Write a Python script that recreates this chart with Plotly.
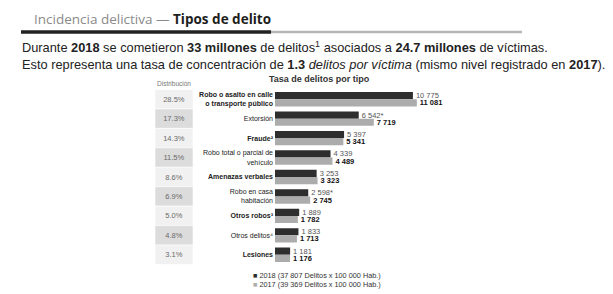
import plotly.graph_objects as go

# page body has an 8px margin: the figure is drawn at (8, 8) in the window
OFF = 8
W, H = 605, 286

categories = ["Robo o asalto en calle o transporte público", "Extorsión", "Fraude",
              "Robo total o parcial de vehículo", "Amenazas verbales",
              "Robo en casa habitación", "Otros robos", "Otros delitos", "Lesiones"]
tick_labels = ["Robo o asalto en calle<br>o transporte público", "Extorsión", "Fraude²",
               "Robo total o parcial de<br>vehículo", "Amenazas verbales",
               "Robo en casa<br>habitación", "Otros robos³", "Otros delitos⁴", "Lesiones"]
tick_bold = [True, False, True, False, True, False, True, False, True]
values_2018 = [10775, 6542, 5397, 4339, 3253, 2598, 1889, 1833, 1181]
notes_2018 = ["", "*", "", "", "", "*", "", "", ""]
values_2017 = [11081, 7719, 5341, 4489, 3323, 2745, 1782, 1713, 1176]
distribution = ["28.5%", "17.3%", "14.3%", "11.5%", "8.6%", "6.9%", "5.0%", "4.8%", "3.1%"]
legend_2018 = "2018 (37 807 Delitos x 100 000 Hab.)"
legend_2017 = "2017 (39 369 Delitos x 100 000 Hab.)"

def fmt(v):
    return f"{v:,}".replace(",", " ")

def px(x):
    return (x - OFF) / W

def py(y):
    return 1 - (y - OFF) / H

FONT = "Liberation Sans, Arial, sans-serif"
DARK = "#2e2e2e"
LIGHT = "#acacac"

fig = go.Figure()

fig.add_trace(go.Bar(
    y=categories, x=values_2018, orientation="h", name=legend_2018,
    marker=dict(color=DARK, line=dict(width=0)),
    text=[fmt(v) + n for v, n in zip(values_2018, notes_2018)],
    textposition="outside", constraintext="none", cliponaxis=False,
    textfont=dict(family=FONT, size=7.5, color="#555555"),
    xaxis="x", yaxis="y",
))
fig.add_trace(go.Bar(
    y=categories, x=values_2017, orientation="h", name=legend_2017,
    marker=dict(color=LIGHT, line=dict(width=0)),
    text=["<b>" + fmt(v) + "</b>" for v in values_2017],
    textposition="outside", constraintext="none", cliponaxis=False,
    textfont=dict(family=FONT, size=7.5, color="#111111"),
    xaxis="x", yaxis="y",
))
# distribution column as a full-width bar per row
fig.add_trace(go.Bar(
    y=categories, x=[1] * len(categories), orientation="h", width=1,
    marker=dict(color=["#f1f1f1" if i % 2 == 0 else "#dcdcdc" for i in range(len(categories))],
                line=dict(width=0.6, color="#ffffff")),
    text=distribution, textposition="inside", insidetextanchor="middle",
    constraintext="none", textfont=dict(family=FONT, size=7.5, color="#6a6a6a"),
    xaxis="x2", yaxis="y", showlegend=False, hoverinfo="skip",
))

y_top, y_bot = 89.5, 264.5
x0, x1 = 275, 595
fig.update_layout(
    width=W, height=H, margin=dict(l=0, r=0, t=0, b=0),
    paper_bgcolor="white", plot_bgcolor="white",
    barmode="group", bargap=0.26, bargroupgap=0,
    showlegend=False,
    font=dict(family=FONT, color="#222"),
    xaxis=dict(domain=[px(x0), px(x1)], range=[0, 25000], visible=False, anchor="y"),
    xaxis2=dict(domain=[px(155), px(193)], range=[0, 1], visible=False, anchor="y"),
    yaxis=dict(domain=[py(y_bot), py(y_top)], range=[len(categories) - 0.5, -0.5],
               tickmode="array", tickvals=categories,
               ticktext=[f"<b>{t}</b>" if b else t for t, b in zip(tick_labels, tick_bold)],
               tickfont=dict(family=FONT, size=7, color="#222"),
               showgrid=False, zeroline=False, showline=False, ticks="",
               anchor="x", ticklabelstandoff=1),
)

ann = []
ann.append(dict(x=px(32), y=py(19), xref="paper", yref="paper", xanchor="left", yanchor="middle",
                showarrow=False,
                text="<span style='color:#8a8a8a'>Incidencia delictiva — </span><b>Tipos de delito</b>",
                font=dict(family="Open Sans, sans-serif", size=13.5, color="#1e1e1e")))
ann.append(dict(x=px(20), y=py(47), xref="paper", yref="paper", xanchor="left", yanchor="middle",
                showarrow=False,
                text="Durante <b>2018</b> se cometieron <b>33 millones</b> de delitos<sup>1</sup> asociados a <b>24.7 millones</b> de víctimas.",
                font=dict(family=FONT, size=12.8, color="#222")))
ann.append(dict(x=px(20), y=py(64), xref="paper", yref="paper", xanchor="left", yanchor="middle",
                showarrow=False,
                text="Esto representa una tasa de concentración de <b>1.3</b> <i>delitos por víctima</i> (mismo nivel registrado en <b>2017</b>).",
                font=dict(family=FONT, size=12.8, color="#222")))
ann.append(dict(x=px(319), y=py(79), xref="paper", yref="paper", xanchor="center", yanchor="middle",
                showarrow=False, text="<b>Tasa de delitos por tipo</b>",
                font=dict(family=FONT, size=9, color="#333")))
ann.append(dict(x=px(174), y=py(83), xref="paper", yref="paper", xanchor="center", yanchor="middle",
                showarrow=False, text="Distribución",
                font=dict(family=FONT, size=6.5, color="#777")))
ann.append(dict(x=px(251), y=py(275), xref="paper", yref="paper", xanchor="left", yanchor="middle",
                showarrow=False,
                text=f"<span style='color:{DARK}'>■</span> {legend_2018}",
                font=dict(family=FONT, size=7.3, color="#333")))
ann.append(dict(x=px(251), y=py(284), xref="paper", yref="paper", xanchor="left", yanchor="middle",
                showarrow=False,
                text=f"<span style='color:{LIGHT}'>■</span> {legend_2017}",
                font=dict(family=FONT, size=7.3, color="#333")))
fig.update_layout(annotations=ann)

fig.add_shape(type="line", xref="paper", yref="paper", x0=px(270), x1=px(522), y0=py(32), y1=py(32),
              line=dict(color="#b5b5b5", width=2.5))
fig.add_shape(type="line", xref="paper", yref="paper", x0=px(21), x1=px(271), y0=py(32), y1=py(32),
              line=dict(color="#222222", width=3.5))

fig.write_html("out.html")
